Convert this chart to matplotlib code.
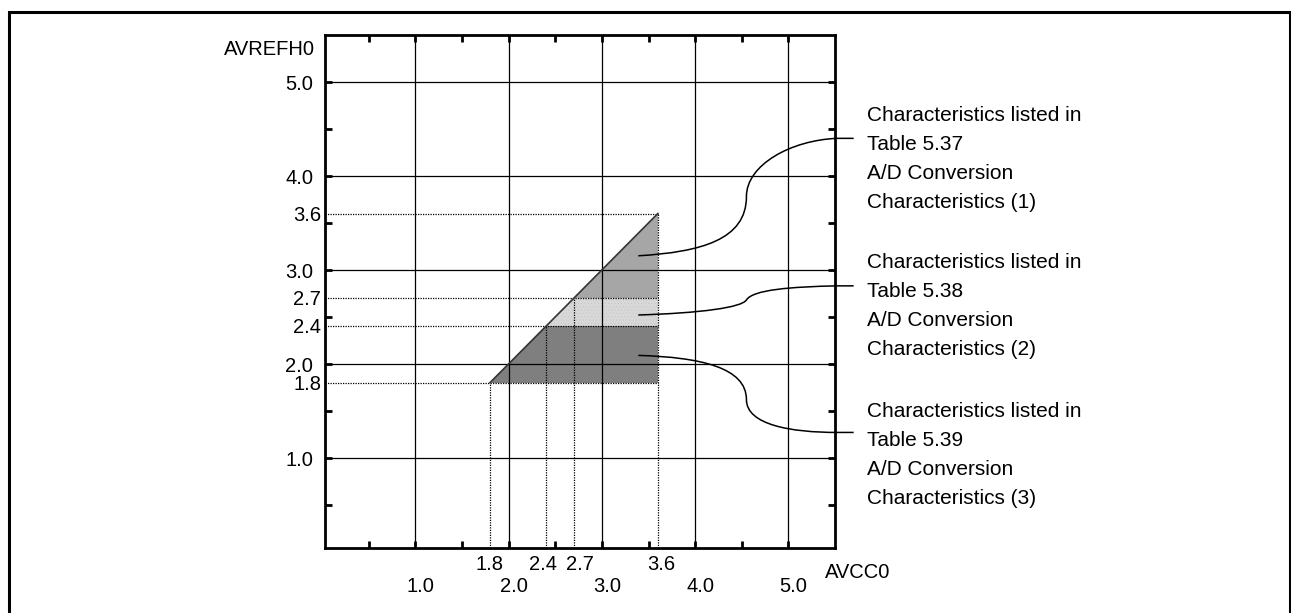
import numpy as np
import matplotlib
matplotlib.use("Agg")
import matplotlib.pyplot as plt
from matplotlib.path import Path
from matplotlib.patches import PathPatch, Rectangle
from matplotlib.transforms import offset_copy

plt.rcParams['font.family'] = ['Liberation Sans', 'DejaVu Sans']
plt.rcParams['font.size'] = 14.5
plt.rcParams['hatch.linewidth'] = 0.3

# values
grid_vals = [1.0, 2.0, 3.0, 4.0, 5.0]
grid_labels = ['1.0', '2.0', '3.0', '4.0', '5.0']
mark_vals = [1.8, 2.4, 2.7, 3.6]
mark_labels = ['1.8', '2.4', '2.7', '3.6']
mark_dx = [-1, -3, 6, 3]                   # label nudges in px (keeps 2.4 / 2.7 apart)
band_edges = [1.8, 2.4, 2.7, 3.6]          # AVREFH0 ranges, bottom to top
band_colors = ['#7f7f7f', '#d8d8d8', '#a6a6a6']
avcc_max = 3.6
tick_steps = np.arange(0.5, 5.01, 0.5)

notes = [
    ["Characteristics listed in", "Table 5.37", "A/D Conversion", "Characteristics (1)"],
    ["Characteristics listed in", "Table 5.38", "A/D Conversion", "Characteristics (2)"],
    ["Characteristics listed in", "Table 5.39", "A/D Conversion", "Characteristics (3)"],
]

# leader curves (data coords): start, c1, c2, mid, c3, c4, end, tail
leaders = [
    [(3.39, 3.15), (4.06, 3.19), (4.55, 3.32), (4.55, 3.78),
     (4.55, 4.12), (5.03, 4.38), (5.52, 4.40), (5.70, 4.40)],
    [(3.39, 2.52), (4.06, 2.54), (4.50, 2.60), (4.55, 2.68),
     (4.62, 2.79), (5.03, 2.82), (5.52, 2.83), (5.70, 2.83)],
    [(3.39, 2.09), (4.06, 2.07), (4.55, 1.96), (4.55, 1.62),
     (4.55, 1.35), (5.03, 1.27), (5.52, 1.27), (5.70, 1.27)],
]

W, H = 1291, 613
fig = plt.figure(figsize=(W / 100, H / 100), dpi=100)
ax = fig.add_axes([325 / W, 1 - 548 / H, (835 - 325) / W, (548 - 35) / H])
x0, y0 = 0.03, 0.04
ax.set_xlim(x0, 5.5)
ax.set_ylim(y0, 5.5)

# shaded operating region
for i, c in enumerate(band_colors):
    lo, hi = band_edges[i], band_edges[i + 1]
    hatch = '.....' if i == 1 else None
    ax.fill([lo, avcc_max, avcc_max, hi], [lo, lo, hi, hi], facecolor=c,
            edgecolor='#c4c4c4' if hatch else 'none', hatch=hatch, lw=0, zorder=1)
ax.plot([band_edges[0], band_edges[-1]], [band_edges[0], band_edges[-1]],
        color='#333333', lw=1.2, zorder=3)

# grid
for v in grid_vals:
    ax.axvline(v, color='black', lw=0.9, zorder=2)
    ax.axhline(v, color='black', lw=0.9, zorder=2)

# dotted guide lines
for v in mark_vals:
    ax.plot([x0, avcc_max], [v, v], color='black', lw=0.9, ls=(0, (1, 1)), zorder=2)
    ax.plot([v, v], [y0, v], color='black', lw=0.9, ls=(0, (1, 1)), zorder=2)

# spines and ticks
for s in ax.spines.values():
    s.set_linewidth(2.0)
ax.set_xticks(tick_steps)
ax.set_yticks(tick_steps)
ax.tick_params(direction='in', length=5, width=2, top=True, right=True,
               labelbottom=False, labelleft=False)

# tick labels
for v, lab in zip(grid_vals, grid_labels):
    ax.text(v, y0, lab, ha='center', va='baseline',
            transform=offset_copy(ax.transData, fig, x=5, y=-44, units='dots'))
    ax.text(x0, v, lab, ha='right', va='baseline',
            transform=offset_copy(ax.transData, fig, x=-12, y=-8, units='dots'))
for v, lab, dx in zip(mark_vals, mark_labels, mark_dx):
    ax.text(v, y0, lab, ha='center', va='baseline',
            transform=offset_copy(ax.transData, fig, x=dx, y=-22, units='dots'))
    ax.text(x0, v, lab, ha='right', va='baseline',
            transform=offset_copy(ax.transData, fig, x=-4, y=-7, units='dots'))

fig.text(315 / W, 1 - 55 / H, 'AVREFH0', ha='right', va='baseline')
fig.text(825 / W, 1 - 578 / H, 'AVCC0', ha='left', va='baseline')

# leaders
codes = [Path.MOVETO] + [Path.CURVE4] * 6 + [Path.LINETO]
for pts in leaders:
    ax.add_patch(PathPatch(Path(pts, codes), fill=False, lw=1.1,
                           color='black', clip_on=False, zorder=4))

# note texts
first_base = [121, 268, 417]
for block, b in zip(notes, first_base):
    for k, line in enumerate(block):
        fig.text(867 / W, 1 - (b + 29 * k) / H, line, ha='left', va='baseline',
                 fontsize=15)

# outer frame
fig.add_artist(Rectangle((9 / W, -0.1), (1290 - 9) / W, 1.1 - 12 / H,
                         transform=fig.transFigure, fill=False, lw=2.2,
                         color='black'))

fig.savefig('out.png', dpi=100)
